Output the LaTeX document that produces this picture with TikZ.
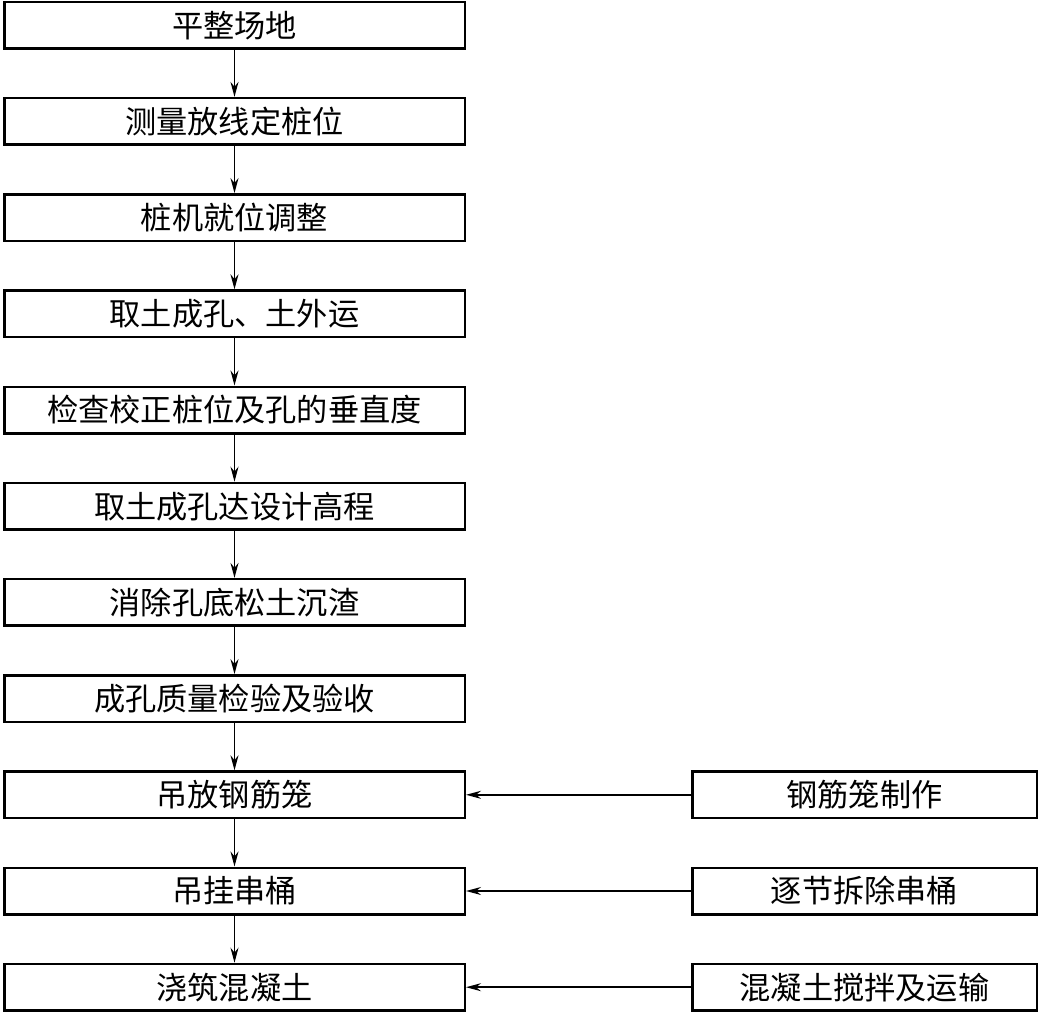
\documentclass[tikz,border=0pt]{standalone}
\usepackage{fontspec}
\newfontfamily\cjk{Noto Sans CJK SC}
\usetikzlibrary{arrows.meta,positioning}
\tikzset{
  stepbox/.style={draw=black,fill=white,line width=1.25pt,minimum width=230.25pt,minimum height=23.25pt,inner sep=0pt,font=\cjk\fontsize{15.6}{18}\selectfont},
  sidebox/.style={stepbox,minimum width=172.25pt},
  flow/.style={-{Stealth[length=7.5pt,width=4pt]},line width=0.8pt,draw=black}
}
\begin{document}
\begin{tikzpicture}[node distance=23.6pt]
  \useasboundingbox (0,0) rectangle (520pt,-509pt);
  \node[stepbox] (pz) at (117.25pt,-12.6pt) {平整场地};
  \node[stepbox,below=of pz] (cl) {测量放线定桩位};
  \node[stepbox,below=of cl] (jw) {桩机就位调整};
  \node[stepbox,below=of jw] (qt) {取土成孔、土外运};
  \node[stepbox,below=of qt] (jc) {检查校正桩位及孔的垂直度};
  \node[stepbox,below=of jc] (sj) {取土成孔达设计高程};
  \node[stepbox,below=of sj] (xc) {消除孔底松土沉渣};
  \node[stepbox,below=of xc] (ys) {成孔质量检验及验收};
  \node[stepbox,below=of ys] (df) {吊放钢筋笼};
  \node[stepbox,below=of df] (dg) {吊挂串桶};
  \node[stepbox,below=of dg] (jz) {浇筑混凝土};
  % side steps
  \node[sidebox,right=112.5pt of df] (gj) {钢筋笼制作};
  \node[sidebox,right=112.5pt of dg] (cc) {逐节拆除串桶};
  \node[sidebox,right=112.5pt of jz] (hn) {混凝土搅拌及运输};
  \foreach \a/\b in {pz/cl,cl/jw,jw/qt,qt/jc,jc/sj,sj/xc,xc/ys,ys/df,df/dg,dg/jz}
    \draw[flow] (\a) -- (\b);
  \foreach \a/\b in {gj/df,cc/dg,hn/jz}
    \draw[flow] (\a) -- (\b);
\end{tikzpicture}
\end{document}
